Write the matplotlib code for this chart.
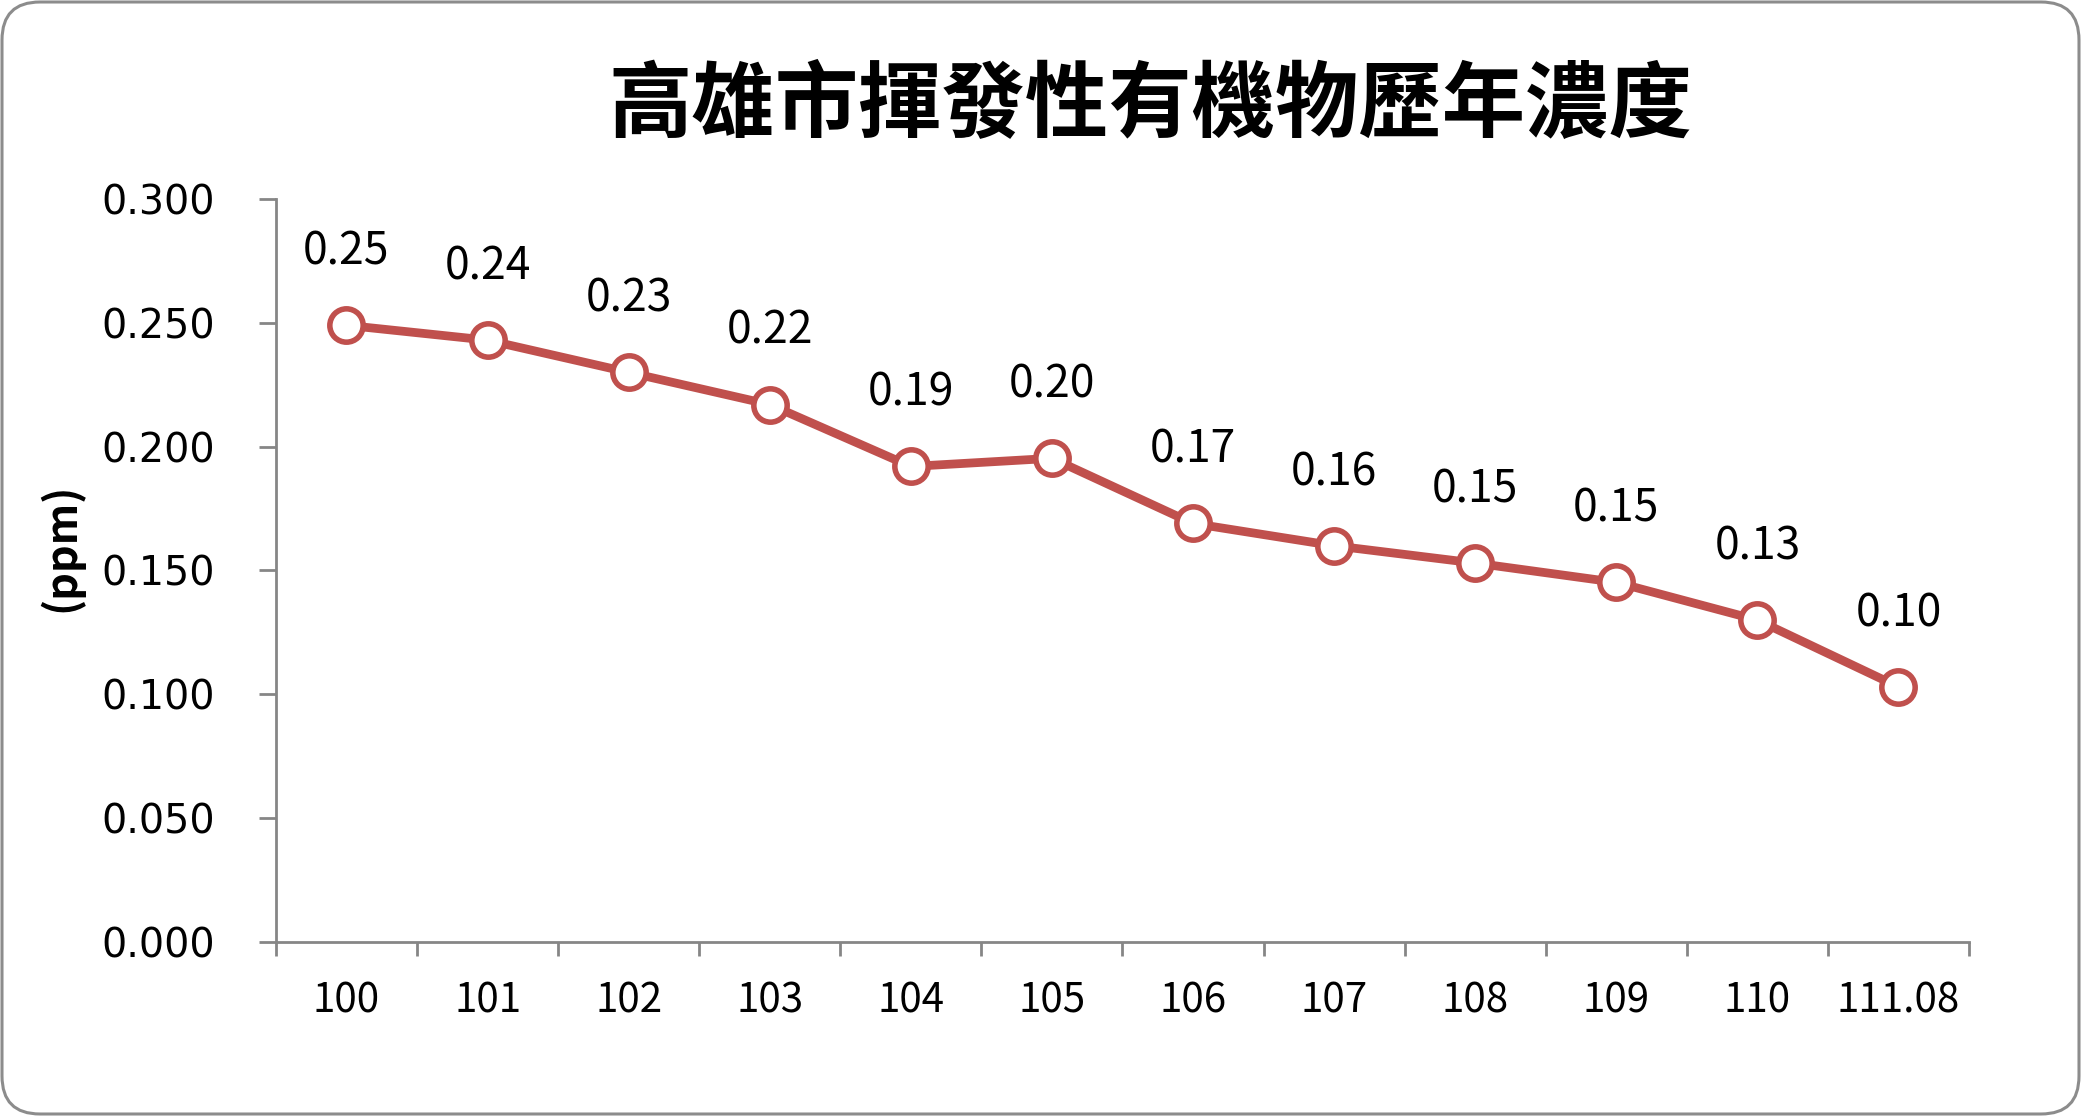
import matplotlib
matplotlib.use("Agg")
import matplotlib.pyplot as plt
from matplotlib.patches import FancyBboxPatch
from matplotlib.transforms import IdentityTransform
from matplotlib.ticker import FixedLocator

years = ['100', '101', '102', '103', '104', '105', '106', '107', '108', '109', '110', '111.08']
conc = [0.249, 0.243, 0.230, 0.217, 0.192, 0.1953, 0.169, 0.160, 0.153, 0.1452, 0.130, 0.103]
y_ticks = [0.0, 0.05, 0.10, 0.15, 0.20, 0.25, 0.30]

title = '高雄市揮發性有機物歷年濃度'
ylabel = '(ppm)'

red = '#C0504D'
grey = '#868686'
cjk = ['Noto Sans CJK TC', 'DejaVu Sans']

fig = plt.figure(figsize=(20.81, 11.16), dpi=100)
ax = fig.add_axes([0.1326, 0.1559, 0.8136, 0.6658])

x = list(range(len(years)))
ax.plot(x, conc, color=red, lw=6.3, marker='o', ms=24,
        mfc='white', mec=red, mew=4, zorder=3, clip_on=False)

for xi, v in zip(x, conc):
    ax.annotate(f"{v:.2f}", (xi, v), xytext=(0, 53), textcoords='offset points',
                ha='center', va='center', fontsize=32, family=cjk)

ax.set_xlim(-0.5, len(years) - 0.5)
ax.set_ylim(0, 0.3)
ax.set_yticks(y_ticks)
ax.set_yticklabels([f"{t:.3f}" for t in y_ticks], fontsize=28.5, family='DejaVu Sans')
ax.set_xticks(x)
ax.set_xticklabels(years, fontsize=29, family=cjk)
ax.xaxis.set_minor_locator(FixedLocator([i - 0.5 for i in range(len(years) + 1)]))

ax.tick_params(axis='x', which='major', length=0, pad=28)
ax.tick_params(axis='x', which='minor', length=10, width=2, color=grey, direction='out')
ax.tick_params(axis='y', length=12, width=2, color=grey, direction='out', pad=32)

for s in ['top', 'right']:
    ax.spines[s].set_visible(False)
for s in ['left', 'bottom']:
    ax.spines[s].set_color(grey)
    ax.spines[s].set_linewidth(2)

fig.text(0.029, 0.51, ylabel, rotation=90, ha='center', va='center',
         fontsize=31, fontweight='bold', family=['Noto Sans CJK TC', 'DejaVu Sans'])
fig.text(0.553, 0.905, title, ha='center', va='center',
         fontsize=60, fontweight='bold', family=cjk)

border = FancyBboxPatch((2, 2), 2077, 1112, boxstyle='round,pad=0,rounding_size=38',
                        transform=IdentityTransform(), fill=False,
                        edgecolor='#8c8c8c', lw=2.2)
fig.patches.append(border)

fig.savefig('out.png', dpi=100)
